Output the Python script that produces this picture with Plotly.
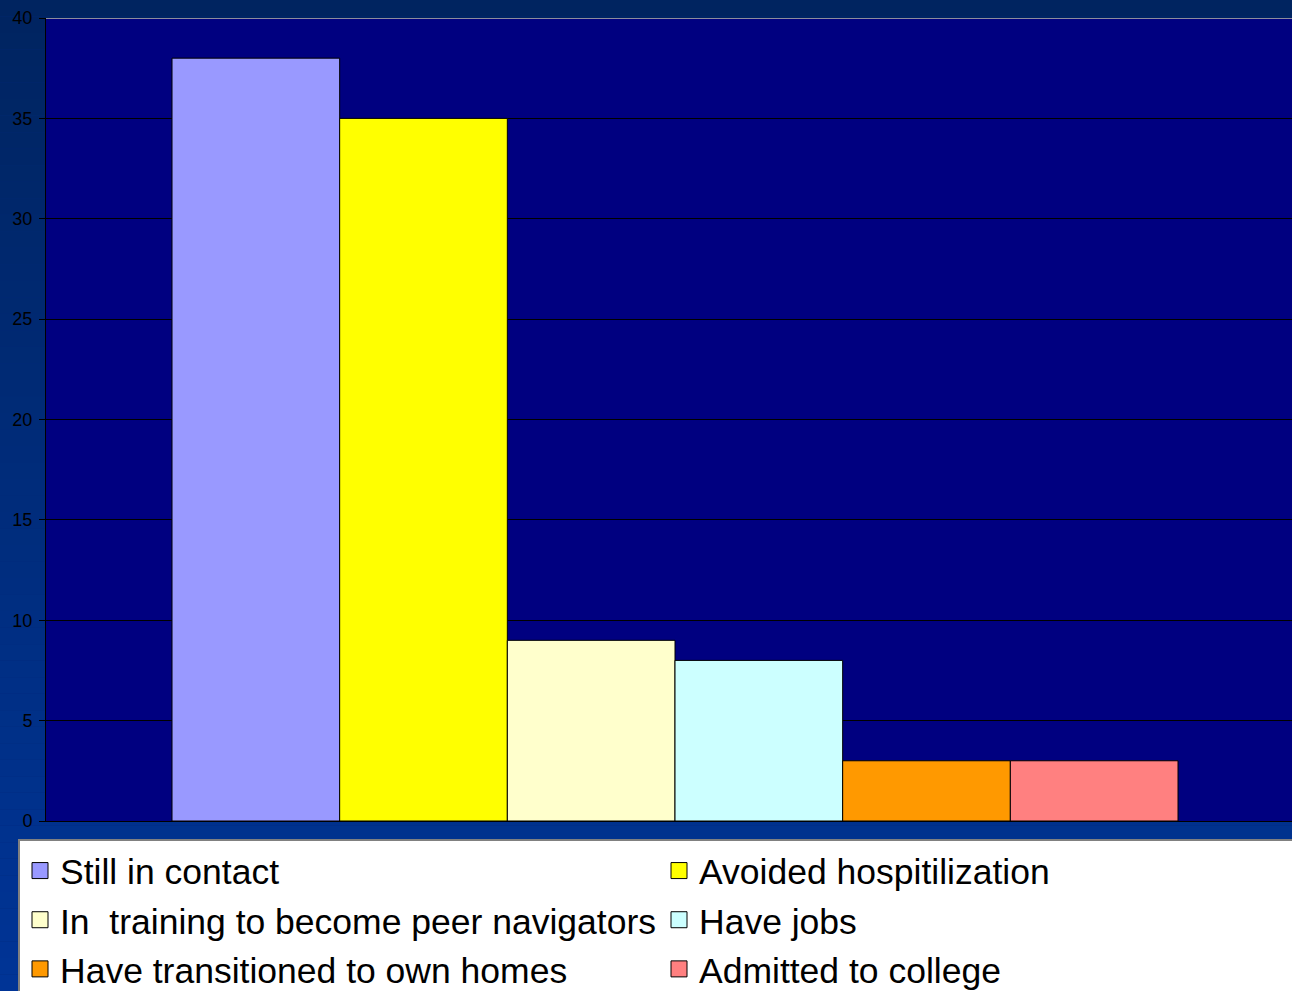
import plotly.graph_objects as go

categories = ["Outcomes"]
series_names = [
    "Still in contact",
    "Avoided hospitilization",
    "In  training to become peer navigators",
    "Have jobs",
    "Have transitioned to own homes",
    "Admitted to college",
]
series_values = [38, 35, 9, 8, 3, 3]
series_colors = ["#9999FF", "#FFFF00", "#FFFFCC", "#CCFFFF", "#FF9900", "#FF8080"]
y_ticks = [0, 5, 10, 15, 20, 25, 30, 35, 40]

W, H = 1292, 991
L, R, T, B = 46, 0, 18, 170

fig = go.Figure()
for name, val, col in zip(series_names, series_values, series_colors):
    fig.add_trace(go.Bar(
        x=[0], y=[val], name=name, showlegend=False,
        marker=dict(color=col, line=dict(color="#000000", width=1)),
    ))
# legend entries (square swatches)
for name, col in zip(series_names, series_colors):
    fig.add_trace(go.Scatter(
        x=[None], y=[None], mode="markers", name=name,
        marker=dict(symbol="square", size=16, color=col,
                    line=dict(color="#000000", width=1)),
    ))

# background gradient strips
shapes = []
n = 60
top = (0, 36, 96)
bot = (0, 52, 150)
for i in range(n):
    f = i / (n - 1)
    c = tuple(int(round(top[k] + (bot[k] - top[k]) * f)) for k in range(3))
    y0 = 1 - i / n
    y1 = 1 - (i + 1) / n
    shapes.append(dict(type="rect", xref="paper", yref="paper",
                       x0=-0.1, x1=1.1,
                       y0=(y0 * H - B) / (H - T - B), y1=(y1 * H - B) / (H - T - B),
                       fillcolor="rgb(%d,%d,%d)" % c, line=dict(width=0), layer="below"))
# plot area
shapes.append(dict(type="rect", xref="paper", yref="paper", x0=0, x1=1, y0=0, y1=1,
                   fillcolor="#000080", line=dict(width=0), layer="below"))
# top border in grey
shapes.append(dict(type="line", xref="paper", yref="y", x0=0, x1=1, y0=40, y1=40,
                   line=dict(color="#8c8c9c", width=2), layer="above"))

u = 1006 / 0.8
fig.update_layout(
    width=W, height=H,
    margin=dict(l=L, r=R, t=T, b=B, pad=0, autoexpand=False),
    paper_bgcolor="#002a7a",
    plot_bgcolor="rgba(0,0,0,0)",
    barmode="group", bargap=0.2, bargroupgap=0,
    shapes=shapes,
    font=dict(family="Liberation Sans, Arial, sans-serif", color="#000000"),
    xaxis=dict(range=[-(675 - L) / u, (W - 675) / u], showticklabels=False,
               showgrid=False, zeroline=False, showline=True, linecolor="#000000",
               linewidth=1, ticks="", fixedrange=True, automargin=False),
    yaxis=dict(range=[0, 40], tickvals=y_ticks, ticks="outside", ticklen=6,
               tickcolor="#000000", showgrid=True, gridcolor="#000000", gridwidth=1,
               zeroline=False, showline=True, linecolor="#000000", linewidth=1,
               tickfont=dict(size=18, color="#000000"), ticklabelstandoff=3,
               automargin=False),
    legend=dict(orientation="h", x=(18 - L) / (W - L), xanchor="left",
                y=(821 - 839) / (H - T - B), yanchor="top",
                bgcolor="#FFFFFF", bordercolor="#808080", borderwidth=2,
                font=dict(size=35.5, color="#000000"),
                entrywidth=594, entrywidthmode="pixels",
                traceorder="normal", tracegroupgap=0, itemwidth=30,
                itemsizing="trace"),
    showlegend=True,
)

fig.write_html("out.html", config={"displayModeBar": False},
               post_script="document.body.style.margin='0';document.body.style.overflow='hidden';")
